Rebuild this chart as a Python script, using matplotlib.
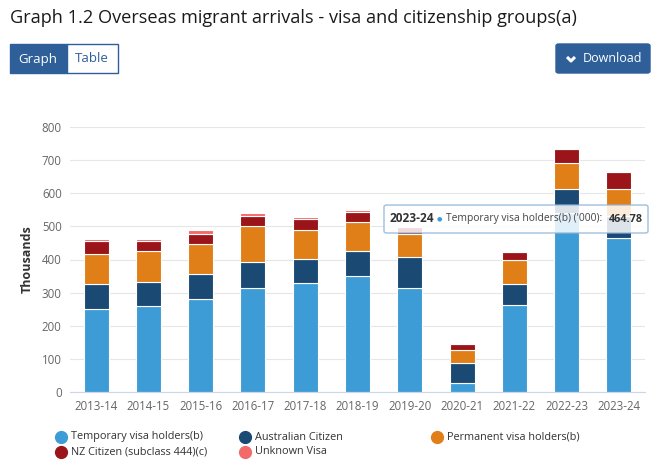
import matplotlib.pyplot as plt
from matplotlib.patches import FancyBboxPatch
from matplotlib.lines import Line2D
import numpy as np

plt.rcParams['font.family'] = ['Open Sans', 'DejaVu Sans']

years = ['2013-14', '2014-15', '2015-16', '2016-17', '2017-18', '2018-19',
         '2019-20', '2020-21', '2021-22', '2022-23', '2023-24']

# values in thousands ('000)
temporary = [252, 261, 281, 315, 330, 350, 313, 28, 264, 540, 464.78]
australian = [73, 72, 76, 77, 72, 76, 95, 60, 63, 72, 68]
permanent = [93, 92, 91, 108, 88, 88, 70, 38, 71, 79, 80]
nz_citizen = [37, 30, 30, 31, 31, 29, 19, 18, 24, 42, 51]
unknown = [8, 8, 10, 9, 6, 6, 3, 2, 1, 3, 2]

series = [
    ('Temporary visa holders(b)', temporary, '#3d9cd5'),
    ('Australian Citizen', australian, '#1a4a74'),
    ('Permanent visa holders(b)', permanent, '#e07f17'),
    ('NZ Citizen (subclass 444)(c)', nz_citizen, '#9a1419'),
    ('Unknown Visa', unknown, '#f26a6a'),
]

W, H = 660, 472


def fx(px):
    return px / W


def fy(py):
    return 1 - py / H


fig = plt.figure(figsize=(6.6, 4.72), dpi=100)
ax = fig.add_axes([fx(70), fy(392), 575 / W, 265 / H])

x = np.arange(len(years))
bottom = np.zeros(len(years))
for name, vals, col in series:
    vals = np.array(vals, dtype=float)
    ax.bar(x, vals, 0.48, bottom=bottom, color=col, edgecolor='white',
           linewidth=0.8, label=name, zorder=2)
    bottom += vals

ax.set_ylim(0, 800)
ax.set_xlim(-0.5, 10.5)
ax.set_yticks(range(0, 801, 100))
ax.set_xticks(x)
ax.set_xticklabels(years)
ax.grid(axis='y', color='#e6e6e6', linewidth=0.8, zorder=0)
ax.tick_params(axis='both', length=0, labelsize=8.3, labelcolor='#666666', pad=6)
for s in ['top', 'right', 'left']:
    ax.spines[s].set_visible(False)
ax.spines['bottom'].set_color('#ccd6eb')
ax.set_ylabel('Thousands', fontsize=9, fontweight='bold', color='#333333', labelpad=6)

# legend, placed by hand in three columns
leg_pos = {0: (61, 437), 1: (245, 437), 2: (437, 437), 3: (61, 452), 4: (245, 452)}
for i, (name, _, col) in enumerate(series):
    px, py = leg_pos[i]
    fig.add_artist(Line2D([fx(px)], [fy(py)], marker='o', markersize=8.5, color=col,
                          linestyle='', transform=fig.transFigure))
    fig.text(fx(px + 10), fy(py), name, fontsize=7.8, color='#333333',
             va='center', ha='left')

# title
fig.text(fx(10), fy(18), 'Graph 1.2 Overseas migrant arrivals - visa and citizenship groups(a)',
         fontsize=13.1, color='#1a1a1a', va='center', ha='left')

# buttons
blue = '#2e5f99'
fig.patches.append(FancyBboxPatch((fx(10), fy(73)), 57 / W, 29 / H,
                                  boxstyle='square,pad=0', transform=fig.transFigure,
                                  facecolor=blue, edgecolor=blue, linewidth=1))
fig.patches.append(FancyBboxPatch((fx(67), fy(73)), 51 / W, 29 / H,
                                  boxstyle='square,pad=0', transform=fig.transFigure,
                                  facecolor='white', edgecolor=blue, linewidth=1))
fig.text(fx(38), fy(59), 'Graph', fontsize=9.5, color='white', ha='center', va='center')
fig.text(fx(92), fy(59), 'Table', fontsize=9.5, color=blue, ha='center', va='center')
fig.patches.append(FancyBboxPatch((fx(556), fy(73)), 94 / W, 29 / H,
                                  boxstyle='round,pad=0,rounding_size=0.004',
                                  transform=fig.transFigure,
                                  facecolor=blue, edgecolor=blue, linewidth=1))
fig.add_artist(Line2D([fx(567), fx(571), fx(575)], [fy(57), fy(61), fy(57)],
                      color='white', linewidth=2.2, solid_capstyle='butt',
                      transform=fig.transFigure))
fig.text(fx(613), fy(59), 'Download', fontsize=9, color='white', ha='center', va='center')

# tooltip
fig.patches.append(FancyBboxPatch((fx(384), fy(233)), 264 / W, 28 / H,
                                  boxstyle='round,pad=0,rounding_size=0.004',
                                  transform=fig.transFigure, facecolor='white', alpha=0.85,
                                  edgecolor='#8fb4d8', linewidth=1, zorder=5))
fig.text(fx(390), fy(219), '2023-24', fontsize=8.6, fontweight='bold',
         color='#333333', va='center', ha='left', zorder=6)
fig.text(fx(437), fy(219), '\u25cf', fontsize=4.5, color='#3d9cd5',
         va='center', ha='left', zorder=6, family=['DejaVu Sans'])
fig.text(fx(446), fy(219), "Temporary visa holders(b) ('000):", fontsize=7.4,
         color='#444444', va='center', ha='left', zorder=6)
fig.text(fx(643), fy(219), '464.78', fontsize=7.8, fontweight='bold',
         color='#333333', va='center', ha='right', zorder=6)

fig.savefig('out.png', dpi=100, facecolor='white')
